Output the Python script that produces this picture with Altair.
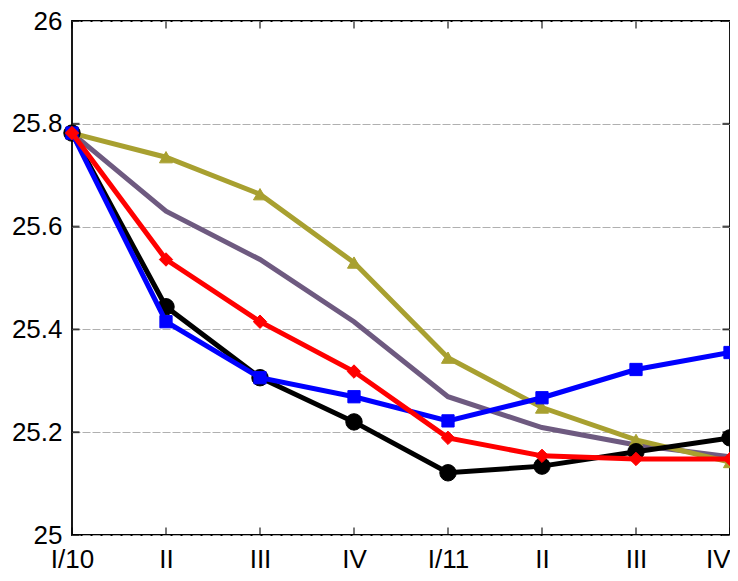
import json
import altair as alt
import pandas as pd

x_labels = ["I/10", "II", "III", "IV", "I/11", "II", "III", "IV"]
x_index = list(range(len(x_labels)))

black_vals = [25.782, 25.444, 25.306, 25.220, 25.121, 25.134, 25.162, 25.189]
blue_vals = [25.782, 25.415, 25.306, 25.269, 25.222, 25.267, 25.322, 25.355]
red_vals = [25.782, 25.536, 25.415, 25.318, 25.189, 25.154, 25.148, 25.148]
purple_vals = [25.782, 25.630, 25.536, 25.415, 25.269, 25.209, 25.175, 25.152]
olive_vals = [25.782, 25.735, 25.663, 25.530, 25.345, 25.248, 25.185, 25.142]

y_ticks = [25.0, 25.2, 25.4, 25.6, 25.8, 26.0]

# drawing order: first drawn at bottom
series = [
    ("purple", purple_vals, "#6e5a80", None, 0),
    ("olive", olive_vals, "#a8a030", "triangle-up", 170),
    ("black", black_vals, "#000000", "circle", 270),
    ("blue", blue_vals, "#0000ff", "square", 150),
    ("red", red_vals, "#ff0000", "diamond", 180),
]

FONT = "Liberation Sans, Arial, sans-serif"
W = 658
H = 514

x_scale = alt.Scale(domain=[0, 7], nice=False, zero=False)
y_scale = alt.Scale(domain=[25, 26], nice=False, zero=False)

label_expr = json.dumps(x_labels) + "[datum.value]"

x_axis = alt.Axis(
    values=x_index, labelExpr=label_expr, title=None, grid=False, domain=False,
    ticks=False, labelFont=FONT, labelFontSize=26, labelColor="black",
    labelPadding=11, labelFlush=False, labelOverlap=False,
    labelAlign={"condition": {"test": "datum.value == 7", "value": "right"}, "value": "center"},
)
y_axis = alt.Axis(
    values=y_ticks, format=".1~f", title=None, grid=True, gridColor="#b0b0b0",
    gridDash=[8, 2], gridWidth=1.2, domain=False, ticks=False,
    labelFont=FONT, labelFontSize=26, labelColor="black",
    labelPadding=10, labelFlush=False, labelOverlap=False,
)

X = lambda: alt.X("x:Q", scale=x_scale, axis=x_axis)
Y = lambda: alt.Y("y:Q", scale=y_scale, axis=y_axis)

layers = []
for name, vals, color, shape, size in series:
    df = pd.DataFrame({"x": x_index, "y": vals})
    line = alt.Chart(df).mark_line(color=color, strokeWidth=5).encode(x=X(), y=Y())
    layers.append(line)
    if shape:
        pts = alt.Chart(df).mark_point(
            shape=shape, size=size, filled=True, color=color, opacity=1,
            stroke=color, strokeWidth=1,
        ).encode(x=X(), y=Y())
        layers.append(pts)

# inward tick marks on all four sides
ytick_df = pd.DataFrame({"y": y_ticks})
xtick_df = pd.DataFrame({"x": x_index})
left_ticks = alt.Chart(ytick_df).mark_tick(
    orient="horizontal", size=7, thickness=2, color="black", xOffset=4
).encode(x=alt.value(0), y=Y())
right_ticks = alt.Chart(ytick_df).mark_tick(
    orient="horizontal", size=7, thickness=2, color="black", xOffset=-4
).encode(x=alt.value(W), y=Y())
bottom_ticks = alt.Chart(xtick_df).mark_tick(
    orient="vertical", size=7, thickness=1.5, color="black", yOffset=-4
).encode(x=X(), y=alt.value(H))
top_ticks = alt.Chart(xtick_df).mark_tick(
    orient="vertical", size=7, thickness=1.5, color="black", yOffset=4
).encode(x=X(), y=alt.value(0))

chart = alt.layer(
    *layers, left_ticks, right_ticks, bottom_ticks, top_ticks
).properties(
    width=W, height=H,
    background="white",
    autosize=alt.AutoSizeParams(type="none"),
    padding={"left": 64, "top": 13, "right": 0, "bottom": 38},
).configure_view(
    stroke="black", strokeWidth=1.8
)

chart.save("out.html", embed_options={"renderer": "svg", "actions": False})
